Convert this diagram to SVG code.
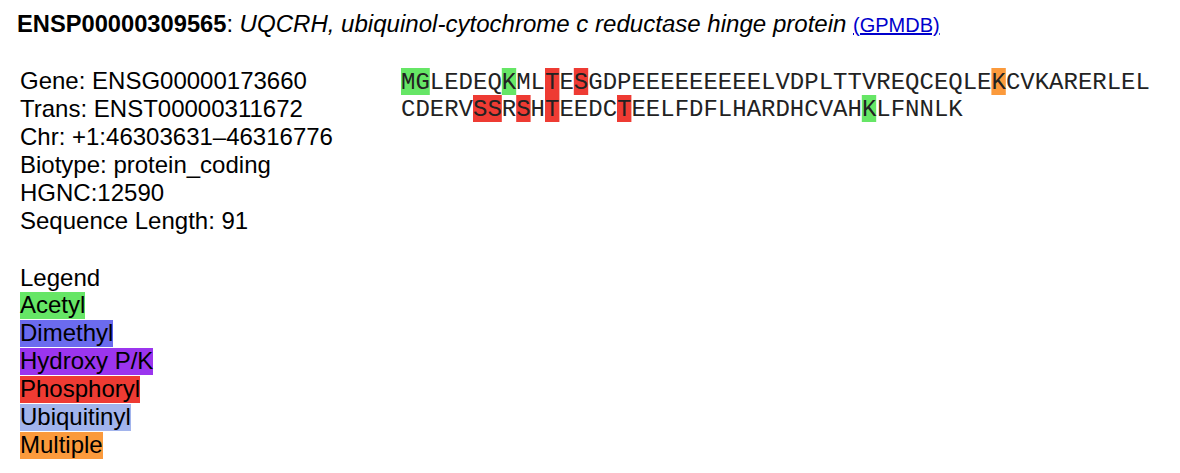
<svg xmlns="http://www.w3.org/2000/svg" width="1180" height="473" viewBox="0 0 1180 473">
<style>
.s{font-family:"Liberation Sans",Arial,sans-serif;font-size:24px;fill:#000}
.t{font-family:"Liberation Sans",Arial,sans-serif;font-size:23.7px;fill:#000}
.m{font-family:"Liberation Mono","Courier New",monospace;font-size:24px;fill:#222}
.ac{fill:#66e666}.dm{fill:#6b6bee}.hy{fill:#9b35ee}.ph{fill:#ee3b33}.ub{fill:#a2b4ec}.mu{fill:#fb9a3c}
</style>
<rect width="1180" height="473" fill="#fff"/>
<g id="title">
<text class="t" x="17" y="32"><tspan font-weight="bold">ENSP00000309565</tspan>: <tspan font-style="italic" font-size="24.05">UQCRH, ubiquinol-cytochrome c reductase hinge protein</tspan> <tspan fill="#0000cc" text-decoration="underline" font-size="20">(GPMDB)</tspan></text>
</g>
<g id="info">
<text class="s" x="20" y="89">Gene: ENSG00000173660</text>
<text class="s" x="20" y="117">Trans: ENST00000311672</text>
<text class="s" x="20" y="145">Chr: +1:46303631–46316776</text>
<text class="s" x="20" y="173">Biotype: protein_coding</text>
<text class="s" x="20" y="201">HGNC:12590</text>
<text class="s" x="20" y="229">Sequence Length: 91</text>
</g>
<g id="legend">
<text class="s" x="20" y="286">Legend</text>
<rect class="ac" x="20" y="292" width="65" height="27"/>
<rect class="dm" x="20" y="320" width="93" height="27"/>
<rect class="hy" x="20" y="348" width="133" height="27"/>
<rect class="ph" x="20" y="376" width="120" height="27"/>
<rect class="ub" x="20" y="404" width="111" height="27"/>
<rect class="mu" x="20" y="432" width="83" height="27"/>
<text class="s" x="20" y="313">Acetyl</text>
<text class="s" x="20" y="341">Dimethyl</text>
<text class="s" x="20" y="369">Hydroxy P/K</text>
<text class="s" x="20" y="397">Phosphoryl</text>
<text class="s" x="20" y="425">Ubiquitinyl</text>
<text class="s" x="20" y="453">Multiple</text>
</g>
<g id="sequence">
<rect class="ac" x="401" y="68" width="28.8" height="27"/>
<rect class="ac" x="501.8" y="68" width="14.4" height="27"/>
<rect class="ph" x="545" y="68" width="14.4" height="27"/>
<rect class="ph" x="573.8" y="68" width="14.4" height="27"/>
<rect class="mu" x="991.4" y="68" width="14.4" height="27"/>
<rect class="ph" x="473" y="95" width="28.8" height="27"/>
<rect class="ph" x="516.2" y="95" width="14.4" height="27"/>
<rect class="ph" x="545" y="95" width="14.4" height="27"/>
<rect class="ph" x="617" y="95" width="14.4" height="27"/>
<rect class="ac" x="861.8" y="95" width="14.4" height="27"/>
<text class="m" x="401" y="89">MGLEDEQKMLTESGDPEEEEEEEEELVDPLTTVREQCEQLEKCVKARERLEL</text>
<text class="m" x="401" y="116">CDERVSSRSHTEEDCTEELFDFLHARDHCVAHKLFNNLK</text>
</g>
</svg>
